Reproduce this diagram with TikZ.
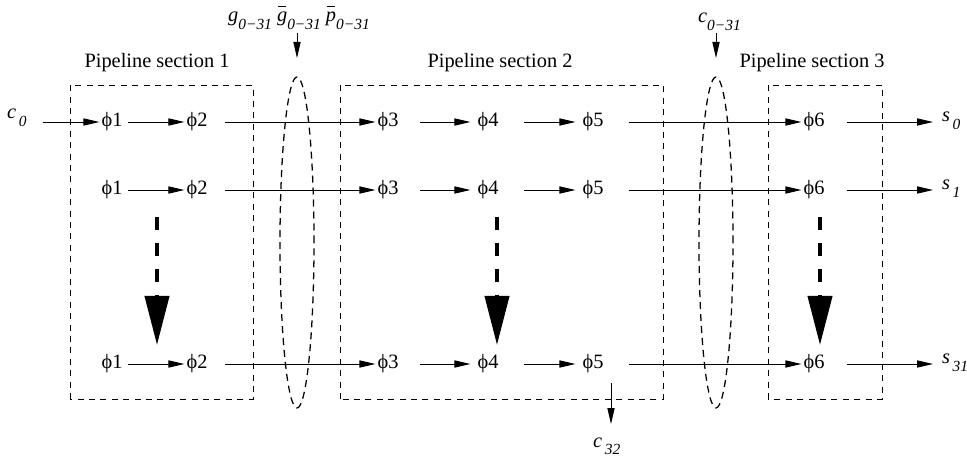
\documentclass[tikz,border=0pt]{standalone}
\usepackage{fontspec}
\setmainfont{Liberation Serif}
\usetikzlibrary{arrows.meta}

\tikzset{
	ph/.style={inner sep=0.1cm},
	sig/.style={-{Triangle[length=0.8cm,width=0.36cm]}, line width=1.3pt},
	section/.style={dash pattern=on 0.3cm off 0.27cm, line width=0.9pt},
	loopline/.style={dash pattern=on 0.35cm off 0.25cm, line width=1.8pt},
	bigarrow/.style={-{Triangle[length=2.45cm,width=1.2cm]}, line width=0.2cm, dash pattern=on 0.65cm off 0.65cm},
}
\newcommand\lbl[2]{\textit{#1}\raisebox{-0.35em}{\fontsize{22}{22}\selectfont\itshape #2}}
\newcommand\ovr[1]{\ooalign{#1\cr\hidewidth\rule[0.72em]{0.42em}{0.05em}\hidewidth\cr}}

\begin{document}
\begin{tikzpicture}[font=\fontsize{29}{34}\selectfont]
		\useasboundingbox (0,0) rectangle (48.35,22.8);
		
		% pipeline sections
		\draw[section] (3.5,2.85) rectangle (12.65,18.55);
		\draw[section] (17,2.85) rectangle (33.15,18.55);
		\draw[section] (38.4,2.85) rectangle (44.1,18.55);
		\node[anchor=base] (sec1) at (7.85,19.4) {Pipeline section 1};
		\node[anchor=base] (sec2) at (25,19.4) {Pipeline section 2};
		\node[anchor=base] (sec3) at (40.6,19.4) {Pipeline section 3};
		
		% latches
		\draw[loopline] (14.85,10.675) ellipse [x radius=0.85, y radius=8.275];
		\draw[loopline] (35.8,10.675) ellipse [x radius=0.85, y radius=8.275];
		
		% stages
		\node[ph] (f11) at (5.6,16.7) {ϕ1};
		\node[ph] (f12) at (9.85,16.7) {ϕ2};
		\node[ph] (f13) at (19.4,16.7) {ϕ3};
		\node[ph] (f14) at (24.4,16.7) {ϕ4};
		\node[ph] (f15) at (29.65,16.7) {ϕ5};
		\node[ph] (f16) at (40.7,16.7) {ϕ6};
		
		\node[ph] (f21) at (5.6,13.3) {ϕ1};
		\node[ph] (f22) at (9.85,13.3) {ϕ2};
		\node[ph] (f23) at (19.4,13.3) {ϕ3};
		\node[ph] (f24) at (24.4,13.3) {ϕ4};
		\node[ph] (f25) at (29.65,13.3) {ϕ5};
		\node[ph] (f26) at (40.7,13.3) {ϕ6};
		
		\node[ph] (f31) at (5.6,4.6) {ϕ1};
		\node[ph] (f32) at (9.85,4.6) {ϕ2};
		\node[ph] (f33) at (19.4,4.6) {ϕ3};
		\node[ph] (f34) at (24.4,4.6) {ϕ4};
		\node[ph] (f35) at (29.65,4.6) {ϕ5};
		\node[ph] (f36) at (40.7,4.6) {ϕ6};
		
		% inputs and outputs
		\node[ph, anchor=base west] (c0) at (0.25,16.85) {\lbl{c}{\,0}};
		\node[ph, anchor=base west] (s0) at (47,16.7) {\lbl{s}{\,0}};
		\node[ph, anchor=base west] (s1) at (47,13.3) {\lbl{s}{\,1}};
		\node[ph, anchor=base west] (s31) at (47,4.6) {\lbl{s}{\,31}};
		\node[ph, anchor=base west] (gin) at (11.3,21.7) {\lbl{g}{0−31} \lbl{\ovr{g}}{0−31} \lbl{\ovr{p}}{0−31}};
		\node[ph, anchor=base west] (cin) at (34.8,21.65) {\lbl{c}{0−31}};
		\node[ph, anchor=base west] (c32) at (29.55,0.45) {\lbl{c}{\,32}};
		
		% row 1
		\draw[sig, shorten <=0.7cm] (c0.east |- f11) -- (f11);
		\draw[sig, shorten <=0.15cm] (f11) -- (f12);
		\draw[sig, shorten <=0.75cm] (f12) -- (f13);
		\draw[sig, shorten <=0.95cm, shorten >=0.25cm] (f13) -- (f14);
		\draw[sig, shorten <=1.15cm, shorten >=0.25cm] (f14) -- (f15);
		\draw[sig, shorten <=1.15cm] (f15) -- (f16);
		\draw[sig, shorten <=1cm, shorten >=0.35cm] (f16) -- (s0.west |- f16);
		
		% row 2
		\draw[sig, shorten <=0.15cm] (f21) -- (f22);
		\draw[sig, shorten <=0.75cm] (f22) -- (f23);
		\draw[sig, shorten <=0.95cm, shorten >=0.25cm] (f23) -- (f24);
		\draw[sig, shorten <=1.15cm, shorten >=0.25cm] (f24) -- (f25);
		\draw[sig, shorten <=1.15cm] (f25) -- (f26);
		\draw[sig, shorten <=1cm, shorten >=0.35cm] (f26) -- (s1.west |- f26);
		
		% row 3
		\draw[sig, shorten <=0.15cm] (f31) -- (f32);
		\draw[sig, shorten <=0.75cm] (f32) -- (f33);
		\draw[sig, shorten <=0.95cm, shorten >=0.25cm] (f33) -- (f34);
		\draw[sig, shorten <=1.15cm, shorten >=0.25cm] (f34) -- (f35);
		\draw[sig, shorten <=1.15cm] (f35) -- (f36);
		\draw[sig, shorten <=1cm, shorten >=0.35cm] (f36) -- (s31.west |- f36);
		
		% latch inputs, carry out
		\coordinate (g1) at (14.85,21.15);
		\coordinate (g2) at (14.85,19.9);
		\coordinate (k1) at (35.8,21.15);
		\coordinate (k2) at (35.8,19.9);
		\coordinate (o1) at (30.55,3.65);
		\coordinate (o2) at (30.55,1.6);
		\draw[sig] (g1) -- (g2);
		\draw[sig] (k1) -- (k2);
		\draw[sig] (o1) -- (o2);
		
		% rows in between
		\coordinate (d1) at (7.85,11.95);
		\coordinate (d2) at (24.85,11.95);
		\coordinate (d3) at (41,11.95);
		\draw[bigarrow] (d1) -- (7.85,5.55);
		\draw[bigarrow] (d2) -- (24.85,5.55);
		\draw[bigarrow] (d3) -- (41,5.55);
	\end{tikzpicture}
\end{document}
